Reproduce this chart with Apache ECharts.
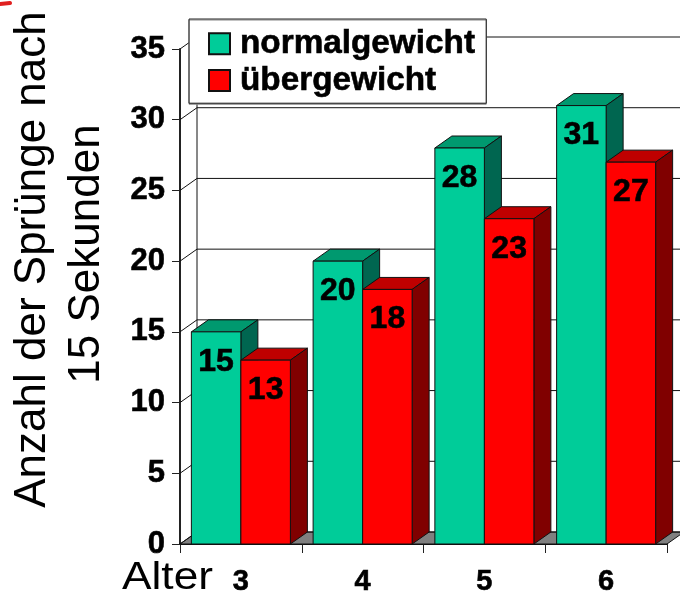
<!DOCTYPE html>
<html>
<head>
<meta charset="utf-8">
<title>Anzahl der Sprünge</title>
<script src="https://cdn.jsdelivr.net/npm/echarts@6/dist/echarts.min.js"></script>
<style>
  html, body { margin: 0; padding: 0; background: #fff; }
  #chart { width: 680px; height: 594px; }
</style>
</head>
<body>
<div id="chart"></div>
<script>
const categories = ['3', '4', '5', '6']
const normalgewicht = [15, 20, 28, 31]
const uebergewicht = [13, 18, 23, 27]
const yTicks = [0, 5, 10, 15, 20, 25, 30, 35]

const FONT = '"Liberation Sans", Arial, sans-serif'
// pseudo 3d offset of the old chart
const DEPTH_X = 17
const DEPTH_Y = 12
const BAR_SHARE = 0.4066
const LINE = '#111'
// the reference text is a bit heavier than plain bold
const HEAVY = { textBorderColor: '#000', textBorderWidth: 0.6 }

function bar3d(colors, side) {
  return function(params, api) {
    const idx = api.value(0)
    const value = api.value(1)
    const top = api.coord([idx, value])
    const base = api.coord([idx, 0])
    const w = api.size([1, 0])[0] * BAR_SHARE
    const x0 = side < 0 ? top[0] - w : top[0]
    const x1 = x0 + w
    const style = { lineWidth: 1, stroke: LINE }
    return {
      type: 'group',
      children: [
        {
          type: 'polygon',
          shape: { points: [[x0, top[1]], [x0 + DEPTH_X, top[1] - DEPTH_Y], [x1 + DEPTH_X, top[1] - DEPTH_Y], [x1, top[1]]] },
          style: Object.assign({ fill: colors.top }, style)
        },
        {
          type: 'polygon',
          shape: { points: [[x1, top[1]], [x1 + DEPTH_X, top[1] - DEPTH_Y], [x1 + DEPTH_X, base[1] - DEPTH_Y], [x1, base[1]]] },
          style: Object.assign({ fill: colors.side }, style)
        },
        {
          type: 'rect',
          shape: { x: x0, y: top[1], width: w, height: base[1] - top[1] },
          style: Object.assign({ fill: colors.front }, style)
        },
        {
          type: 'text',
          x: (x0 + x1) / 2,
          y: top[1] + 30,
          style: {
            text: String(value),
            align: 'center',
            verticalAlign: 'middle',
            font: 'bold 32px ' + FONT,
            fill: '#000',
            stroke: '#000',
            lineWidth: 0.6
          }
        }
      ]
    }
  }
}

function wall(params, api) {
  const grid = params.coordSys
  const right = grid.x + grid.width
  const y = api.coord([0, api.value(1)])[1]
  const backY = y - DEPTH_Y
  const backX = grid.x + DEPTH_X
  const lineStyle = { stroke: LINE, lineWidth: 1 }
  const children = [
    { type: 'line', shape: { x1: grid.x, y1: y, x2: backX, y2: backY }, style: lineStyle },
    { type: 'line', shape: { x1: backX, y1: backY, x2: right + DEPTH_X, y2: backY }, style: lineStyle }
  ]
  if (api.value(1) === 0) {
    children.unshift({
      type: 'polygon',
      shape: { points: [[grid.x, y], [backX, backY], [right + DEPTH_X, backY], [right, y]] },
      style: { fill: '#808080', stroke: LINE, lineWidth: 1 }
    })
    children.push({
      type: 'line',
      shape: { x1: backX, y1: backY, x2: backX, y2: grid.y - DEPTH_Y },
      style: lineStyle
    })
  }
  return { type: 'group', children: children }
}

const chart = echarts.init(document.getElementById('chart'), null, { renderer: 'canvas' })

chart.setOption({
  animation: false,
  backgroundColor: '#fff',
  textStyle: { fontFamily: FONT },
  grid: { left: 180, right: 13, top: 49, bottom: 50, outerBoundsMode: 'none' },
  legend: {
    data: ['normalgewicht', 'übergewicht'],
    orient: 'vertical',
    left: 189,
    top: 19,
    padding: [8, 11, 6, 19],
    itemWidth: 21,
    itemHeight: 21,
    itemGap: 3,
    icon: 'rect',
    backgroundColor: '#fff',
    borderColor: '#222',
    borderWidth: 1,
    shadowColor: '#888',
    shadowOffsetY: 1,
    selectedMode: false,
    textStyle: Object.assign({
      fontFamily: FONT,
      fontWeight: 'bold',
      fontSize: 33.3,
      color: '#000',
      padding: [4, 0, 0, 5]
    }, HEAVY)
  },
  xAxis: {
    type: 'category',
    data: categories,
    axisLine: { lineStyle: { color: '#111', width: 2 } },
    axisTick: { show: true, length: 9, lineStyle: { color: '#222', width: 1 } },
    axisLabel: Object.assign({
      margin: 23,
      color: '#000',
      fontFamily: FONT,
      fontWeight: 'bold',
      fontSize: 29
    }, HEAVY)
  },
  yAxis: {
    type: 'value',
    min: 0,
    max: 35,
    interval: 5,
    splitLine: { show: false },
    axisLine: { show: true, lineStyle: { color: '#222', width: 2 } },
    axisTick: { show: true, length: 8, lineStyle: { color: '#222', width: 1 } },
    axisLabel: Object.assign({
      margin: 15,
      color: '#000',
      fontFamily: FONT,
      fontWeight: 'bold',
      fontSize: 31
    }, HEAVY)
  },
  series: [
    {
      name: 'wall',
      type: 'custom',
      renderItem: wall,
      clip: false,
      silent: true,
      data: yTicks.map(t => [0, t])
    },
    {
      name: 'normalgewicht',
      type: 'custom',
      renderItem: bar3d({ front: '#00CC99', top: '#00996F', side: '#006650' }, -1),
      itemStyle: { color: '#00CC99', borderColor: LINE, borderWidth: 1 },
      clip: false,
      data: normalgewicht.map((v, i) => [i, v])
    },
    {
      name: 'übergewicht',
      type: 'custom',
      renderItem: bar3d({ front: '#FF0000', top: '#BF0000', side: '#800000' }, 1),
      itemStyle: { color: '#FF0000', borderColor: LINE, borderWidth: 1 },
      clip: false,
      data: uebergewicht.map((v, i) => [i, v])
    }
  ],
  graphic: [
    {
      type: 'text',
      x: 55,
      y: 259.5,
      rotation: Math.PI / 2,
      style: {
        text: 'Anzahl der Sprünge nach',
        align: 'center',
        verticalAlign: 'bottom',
        font: '44px ' + FONT,
        fill: '#000'
      }
    },
    {
      type: 'text',
      x: 109,
      y: 254,
      rotation: Math.PI / 2,
      style: {
        text: '15 Sekunden',
        align: 'center',
        verticalAlign: 'bottom',
        font: '44px ' + FONT,
        fill: '#000'
      }
    },
    {
      type: 'text',
      x: 122,
      y: 598,
      scaleX: 1.165,
      style: {
        text: 'Alter',
        align: 'left',
        verticalAlign: 'bottom',
        font: '38px ' + FONT,
        fill: '#000'
      }
    },
    {
      type: 'line',
      shape: { x1: 0, y1: 4, x2: 10, y2: 3 },
      style: { stroke: '#E02020', lineWidth: 4, lineCap: 'round' }
    }
  ]
})
</script>
</body>
</html>
